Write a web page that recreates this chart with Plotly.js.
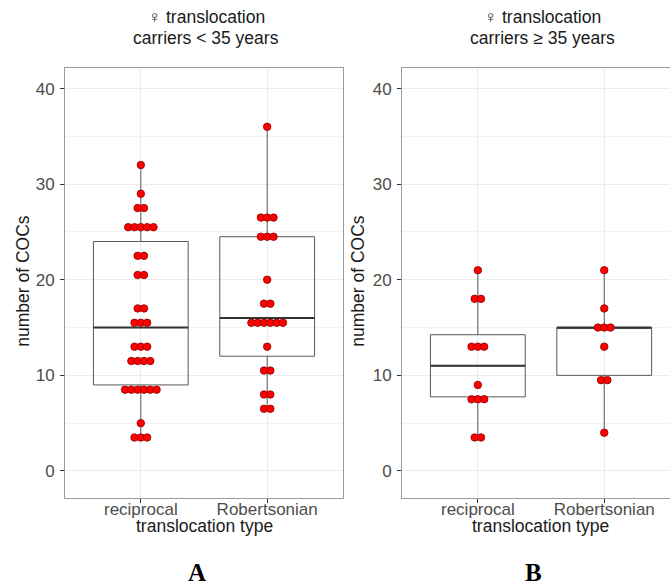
<!DOCTYPE html>
<html>
<head>
<meta charset="utf-8">
<script src="https://cdn.plot.ly/plotly-3.0.1.min.js"></script>
<style>html,body{margin:0;padding:0;background:#fff;}</style>
</head>
<body>
<div id="chart" style="width:670px;height:585px;"></div>
<script>
// ---- data ----
const categories = ['reciprocal', 'Robertsonian'];
const panelTitleLine1 = ['\u2640 translocation', '\u2640 translocation'];
const panelTitleLine2 = ['carriers &lt; 35 years', 'carriers \u2265 35 years'];
const panelLabels = ['A', 'B'];
const yTitle = 'number of COCs';
const xTitle = 'translocation type';
const yTicks = [0, 10, 20, 30, 40];

// panel A: carriers < 35 years
const youngRecip = [3.5,3.5,3.5,5,8.5,8.5,8.5,8.5,8.5,8.5,11.5,11.5,11.5,11.5,13,13,13,15.5,15.5,15.5,17,17,20.5,20.5,22.5,22.5,25.5,25.5,25.5,25.5,25.5,27.5,27.5,29,32];
const youngRobert = [6.5,6.5,8,8,10.5,10.5,13,15.5,15.5,15.5,15.5,15.5,15.5,17.5,17.5,20,24.5,24.5,24.5,26.5,26.5,26.5,36];
const youngQ1 = [9, 12];
const youngMedian = [15, 16];
const youngQ3 = [24, 24.5];
const youngLower = [3.5, 6.5];
const youngUpper = [32, 36];

// panel B: carriers >= 35 years
const oldRecip = [3.5,3.5,7.5,7.5,7.5,9,13,13,13,18,18,21];
const oldRobert = [4,9.5,9.5,13,15,15,15,17,21];
const oldQ1 = [7.75, 10];
const oldMedian = [11, 15];
const oldQ3 = [14.25, 15];
const oldLower = [3.5, 4];
const oldUpper = [21, 21];

// ---- helpers ----
const BOX_W = 0.75;
const DOT_STEP = 0.05;

function dotPositions(values, center) {
  const counts = {};
  values.forEach(v => { counts[v] = (counts[v] || 0) + 1; });
  const seen = {};
  return values.map(v => {
    const j = seen[v] || 0; seen[v] = j + 1;
    return center + (j - (counts[v] - 1) / 2) * DOT_STEP;
  });
}

function panelTraces(groups, q1, med, q3, lo, hi, xa, ya) {
  const centers = groups.map((g, i) => i);
  const out = [];
  out.push({
    type: 'box', x: centers, q1: q1, median: med, q3: q3,
    lowerfence: lo, upperfence: hi, width: BOX_W,
    fillcolor: 'rgba(255,255,255,0)', line: {color: '#595959', width: 1},
    whiskerwidth: 0, boxpoints: false, hoverinfo: 'skip',
    xaxis: xa, yaxis: ya, showlegend: false
  });
  const mx = [], my = [];
  centers.forEach((c, i) => { mx.push(c - BOX_W/2, c + BOX_W/2, null); my.push(med[i], med[i], null); });
  out.push({type: 'scatter', mode: 'lines', x: mx, y: my, line: {color: '#333333', width: 2},
    hoverinfo: 'skip', xaxis: xa, yaxis: ya, showlegend: false});
  let dx = [], dy = [];
  groups.forEach((g, i) => { dx = dx.concat(dotPositions(g, centers[i])); dy = dy.concat(g); });
  out.push({type: 'scatter', mode: 'markers', x: dx, y: dy,
    marker: {color: '#ff0000', size: 7.5, line: {color: '#8b0000', width: 0.8}},
    xaxis: xa, yaxis: ya, showlegend: false});
  return out;
}

const data = [].concat(
  panelTraces([youngRecip, youngRobert], youngQ1, youngMedian, youngQ3, youngLower, youngUpper, 'x', 'y'),
  panelTraces([oldRecip, oldRobert], oldQ1, oldMedian, oldQ3, oldLower, oldUpper, 'x2', 'y2')
);

const tickFont = {family: 'Liberation Sans, Arial, sans-serif', size: 17, color: '#4d4d4d'};
const titleFont = {family: 'Liberation Sans, Arial, sans-serif', size: 17.5, color: '#1a1a1a'};

function xAxis(domain, range, anchor) {
  return {domain: domain, range: range, anchor: anchor, tickmode: 'array', tickvals: [0, 1], ticktext: categories,
    showgrid: true, gridcolor: '#ebebeb', gridwidth: 1, zeroline: false,
    ticks: 'outside', ticklen: 4, tickcolor: '#333333', tickwidth: 1, tickfont: tickFont,
    ticklabelstandoff: -8,
    showline: true, mirror: true, linecolor: '#9a9a9a', linewidth: 1, fixedrange: true};
}
function yAxis(anchor, mirror) {
  return {anchor: anchor, range: [-2.83, 42.15], tickmode: 'array', tickvals: yTicks,
    minor: {dtick: 5, tick0: 0, showgrid: true, gridcolor: '#f3f3f3', ticks: ''},
    showgrid: true, gridcolor: '#ebebeb', gridwidth: 1, zeroline: false,
    ticks: 'outside', ticklen: 4, tickcolor: '#333333', tickwidth: 1, tickfont: tickFont,
    ticklabelstandoff: 2,
    showline: true, mirror: mirror, linecolor: '#9a9a9a', linewidth: 1, fixedrange: true};
}

const L = 65, PW = 605, TOP = 68, BOT = 498.5, PH = BOT - TOP;
const px = p => (p - L) / PW;
const py = p => (BOT - p) / PH;

const annotations = [];
const panelCenters = [206, 542];
const yTitleX = [23, 358];
const letterX = [197, 533];
for (let i = 0; i < 2; i++) {
  annotations.push({xref: 'paper', yref: 'paper', x: px(panelCenters[i]), y: py(17), xanchor: 'center', yanchor: 'middle',
    text: panelTitleLine1[i], showarrow: false, font: titleFont});
  annotations.push({xref: 'paper', yref: 'paper', x: px(panelCenters[i]), y: py(37.5), xanchor: 'center', yanchor: 'middle',
    text: panelTitleLine2[i], showarrow: false, font: titleFont});
  annotations.push({xref: 'paper', yref: 'paper', x: px(panelCenters[i] - 2), y: py(527), xanchor: 'center', yanchor: 'middle',
    text: xTitle, showarrow: false, font: titleFont});
  annotations.push({xref: 'paper', yref: 'paper', x: px(yTitleX[i]), y: py(281), xanchor: 'center', yanchor: 'middle',
    text: yTitle, textangle: -90, showarrow: false, font: titleFont});
  annotations.push({xref: 'paper', yref: 'paper', x: px(letterX[i]), y: py(573), xanchor: 'center', yanchor: 'middle',
    text: '<b>' + panelLabels[i] + '</b>', showarrow: false,
    font: {family: 'Liberation Serif, Times New Roman, serif', size: 25, color: '#000000'}});
}

const layout = {
  width: 670, height: 585,
  margin: {l: L, r: 0, t: TOP, b: 585 - BOT},
  paper_bgcolor: '#ffffff', plot_bgcolor: '#ffffff',
  showlegend: false,
  xaxis: xAxis([0, px(343)], [-0.6, 1.6], 'y'),
  yaxis: yAxis('x', true),
  xaxis2: xAxis([px(402), 1], [-0.6, -0.6 + 268 / 126.4], 'y2'),
  yaxis2: yAxis('x2', false),
  annotations: annotations
};

Plotly.newPlot('chart', data, layout, {displayModeBar: false, staticPlot: true});
</script>
</body>
</html>
